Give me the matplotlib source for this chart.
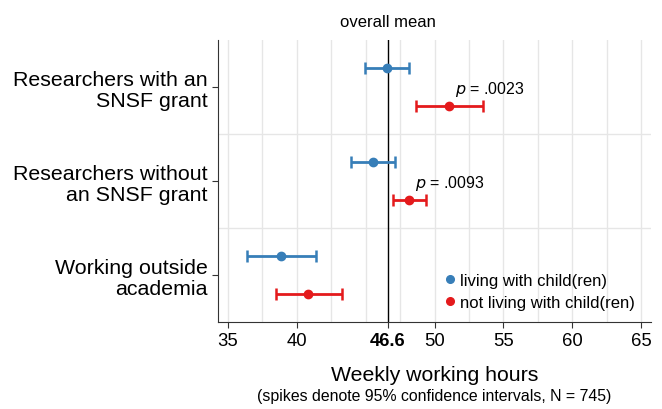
import matplotlib.pyplot as plt
from matplotlib.lines import Line2D
import numpy as np

plt.rcParams['font.family'] = ['Liberation Sans', 'DejaVu Sans']

# ------------------------
# Data
# ------------------------

groups = ["Researchers with an\nSNSF grant",
          "Researchers without\nan SNSF grant",
          "Working outside\nacademia"]

with_child_mean = [46.57, 45.5, 38.87]
with_child_lo = [44.98, 43.96, 36.35]
with_child_hi = [48.14, 47.15, 41.42]

without_child_mean = [51.06, 48.14, 40.85]
without_child_lo = [48.67, 46.96, 38.48]
without_child_hi = [53.5, 49.37, 43.31]

p_labels = [".0023", ".0093", None]
overall_mean = 46.6

x_ticks = [35, 40, 46.6, 50, 55, 60, 65]

BLUE = "#377eb8"
RED = "#e41a1c"

# ------------------------
# Plot
# ------------------------

fig = plt.figure(figsize=(6.62, 4.10), dpi=100)
ax = fig.add_axes([0.3293, 0.2122, 0.6541, 0.6878])

ypos = np.arange(len(groups))
off = 0.2


def draw_series(means, lo, hi, y, color):
    means = np.array(means)
    err = [means - np.array(lo), np.array(hi) - means]
    ax.errorbar(means, y, xerr=err, fmt="o", color=color, ms=6,
                elinewidth=2, capsize=4, capthick=1.8, zorder=3)


draw_series(with_child_mean, with_child_lo, with_child_hi, ypos - off, BLUE)
draw_series(without_child_mean, without_child_lo, without_child_hi, ypos + off, RED)

for i, p in enumerate(p_labels):
    if p is None:
        continue
    ax.text(without_child_mean[i] + 0.45, ypos[i] + off - 0.18, f"$p$ = {p}",
            fontsize=11.5, ha="left", va="center")

# overall mean line
ax.axvline(overall_mean, color="black", lw=1, zorder=2)
ax.text(overall_mean, -0.7, "overall mean", ha="center", va="center", fontsize=12)

# grid
for gx in np.arange(35, 65.1, 2.5):
    ax.axvline(gx, color="#e6e6e6", lw=1, zorder=0)
for gy in [0.5, 1.5]:
    ax.axhline(gy, color="#e6e6e6", lw=1, zorder=0)

ax.set_xlim(34.28, 65.72)
ax.set_ylim(2.5, -0.5)

ax.set_yticks(ypos)
ax.set_yticklabels(groups, fontsize=15.4, linespacing=1.15)
ax.set_xticks(x_ticks)
ax.set_xticklabels([("%g" % t) for t in x_ticks], fontsize=13.3)
for lbl in ax.get_xticklabels():
    if lbl.get_text() == "46.6":
        lbl.set_fontweight("bold")
ax.tick_params(axis="both", length=4, width=0.8, colors="#333333", labelcolor="black")

for s in ["top", "right"]:
    ax.spines[s].set_visible(False)
ax.spines["left"].set_color("#333333")
ax.spines["bottom"].set_color("#333333")

ax.set_xlabel("Weekly working hours", fontsize=15.3, labelpad=11)
fig.text(0.6563, 0.032, "(spikes denote 95% confidence intervals, N = 745)",
         ha="center", va="center", fontsize=11.4)

handles = [Line2D([], [], ls="none", marker="o", ms=5.5, color=BLUE),
           Line2D([], [], ls="none", marker="o", ms=5.5, color=RED)]
ax.legend(handles, ["living with child(ren)", "not living with child(ren)"],
          loc="lower right", bbox_to_anchor=(0.99, 0.0), frameon=False,
          fontsize=12, handletextpad=0.1, handlelength=1, borderaxespad=0.3,
          labelspacing=0.45)

fig.savefig("out.png", dpi=100)
